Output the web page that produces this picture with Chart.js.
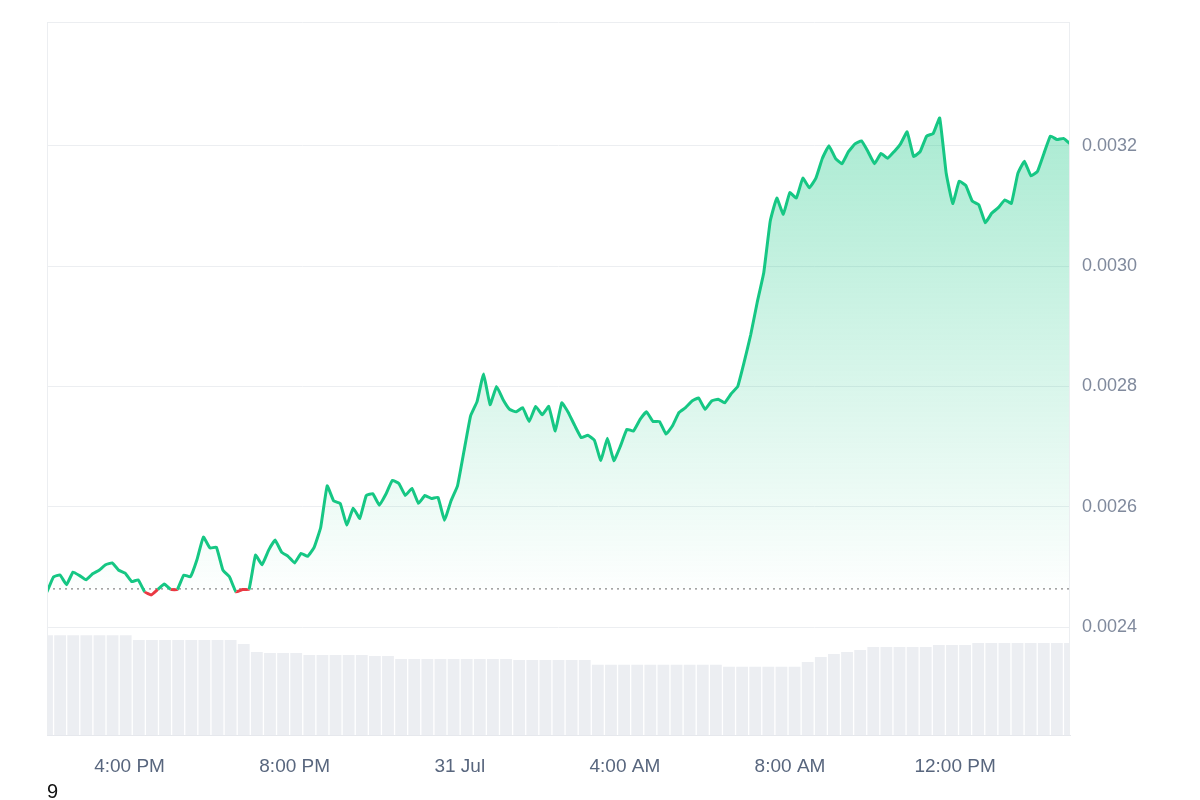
<!DOCTYPE html>
<html>
<head>
<meta charset="utf-8">
<script src="https://cdn.jsdelivr.net/npm/chart.js@4"></script>
<style>
  body { margin: 0; background: #fff; font-family: "Liberation Sans", Arial, sans-serif; }
  #wrap { position: relative; width: 1200px; height: 800px; }
  #note { position: absolute; left: 47px; top: 780px; font-size: 20px; color: #111; }
</style>
</head>
<body>
<div id="wrap">
  <canvas id="priceChart" width="1200" height="800"></canvas>
  <div id="note">9</div>
</div>
<script>
// price samples, evenly spaced from 14:00 over ~24.8h
const prices = [
  0.002459, 0.002484, 0.002487, 0.002471, 0.002492, 0.002486, 0.002479, 0.002489, 0.002495, 0.002504,
  0.002507, 0.002495, 0.002490, 0.002476, 0.002479, 0.002459, 0.002454, 0.002463, 0.002472, 0.002463,
  0.002463, 0.002487, 0.002484, 0.002512, 0.002550, 0.002532, 0.002533, 0.002495, 0.002484, 0.002459,
  0.002463, 0.002463, 0.002520, 0.002504, 0.002528, 0.002545, 0.002525, 0.002518, 0.002507, 0.002523,
  0.002518, 0.002533, 0.002566, 0.002635, 0.002610, 0.002606, 0.002570, 0.002598, 0.002581, 0.002619,
  0.002622, 0.002603, 0.002621, 0.002644, 0.002639, 0.002619, 0.002631, 0.002606, 0.002619, 0.002614,
  0.002616, 0.002578, 0.002610, 0.002635, 0.002693, 0.002751, 0.002775, 0.002821, 0.002770, 0.002800,
  0.002778, 0.002762, 0.002758, 0.002765, 0.002742, 0.002767, 0.002753, 0.002767, 0.002726, 0.002773,
  0.002757, 0.002735, 0.002715, 0.002719, 0.002711, 0.002677, 0.002714, 0.002677, 0.002701, 0.002729,
  0.002726, 0.002745, 0.002758, 0.002742, 0.002742, 0.002721, 0.002735, 0.002757, 0.002765, 0.002776,
  0.002781, 0.002762, 0.002776, 0.002779, 0.002773, 0.002788, 0.002800, 0.002841, 0.002886, 0.002940,
  0.002989, 0.003075, 0.003113, 0.003086, 0.003122, 0.003113, 0.003146, 0.003130, 0.003146, 0.003179,
  0.003200, 0.003179, 0.003170, 0.003190, 0.003203, 0.003208, 0.003190, 0.003170, 0.003187, 0.003179,
  0.003190, 0.003203, 0.003223, 0.003182, 0.003190, 0.003216, 0.003220, 0.003246, 0.003154, 0.003104,
  0.003141, 0.003134, 0.003108, 0.003102, 0.003072, 0.003088, 0.003097, 0.003110, 0.003104, 0.003154,
  0.003174, 0.003150, 0.003157, 0.003187, 0.003216, 0.003210, 0.003212, 0.003203
];
const volumes = [
  101, 101, 101, 101, 101, 101, 101, 96, 96, 96, 96, 96, 96, 96, 96, 92, 84, 83, 83, 83,
  81, 81, 81, 81, 81, 80, 80, 77, 77, 77, 77, 77, 77, 77, 77, 77, 76, 76, 76, 76,
  76, 76, 71, 71, 71, 71, 71, 71, 71, 71, 71, 71, 69, 69, 69, 69, 69, 69, 74, 79,
  82, 84, 86, 89, 89, 89, 89, 89, 91, 91, 91, 93, 93, 93, 93, 93, 93, 93, 93
];
const openPrice = 0.002464;
const spanMinutes = 1487;
const tickMinutes = [120, 360, 600, 840, 1080, 1320];
const tickLabels = ["4:00 PM", "8:00 PM", "31 Jul", "4:00 AM", "8:00 AM", "12:00 PM"];
const priceTicks = [0.0024, 0.0026, 0.0028, 0.0030, 0.0032];

const green = "#16c784", red = "#ea3943";
const priceStep = spanMinutes / (prices.length - 1);
const volStep = spanMinutes / (volumes.length - 1);
const pricePoints = prices.map((p, i) => ({ x: i * priceStep, y: p }));
const volPoints = volumes.map((v, i) => ({ x: i * volStep, y: v }));

const ctx = document.getElementById("priceChart").getContext("2d");
const grad = ctx.createLinearGradient(0, 100, 0, 600);
grad.addColorStop(0, "rgba(22,199,132,0.38)");
grad.addColorStop(1, "rgba(22,199,132,0.0)");

new Chart(ctx, {
  data: {
    datasets: [
      {
        type: "line",
        data: pricePoints,
        borderColor: green,
        borderWidth: 3,
        pointRadius: 0,
        tension: 0.1,
        yAxisID: "y",
        fill: { target: { value: openPrice }, above: grad, below: "rgba(0,0,0,0)" },
        segment: {
          borderColor: c => (c.p0.parsed.y < openPrice && c.p1.parsed.y < openPrice + 0.000004) ? red : green
        },
        order: 1
      },
      {
        type: "line",
        data: [{ x: 0, y: openPrice }, { x: spanMinutes, y: openPrice }],
        borderColor: "#888",
        borderWidth: 1.2,
        borderDash: [2, 4],
        pointRadius: 0,
        yAxisID: "y",
        order: 2
      },
      {
        type: "bar",
        data: volPoints,
        backgroundColor: "#eceef2",
        barPercentage: 1,
        categoryPercentage: 0.9,
        yAxisID: "vol",
        order: 3
      }
    ]
  },
  options: {
    responsive: false,
    animation: false,
    layout: { padding: { left: 47, top: 14, right: 0, bottom: 10 } },
    plugins: { legend: { display: false }, tooltip: { enabled: false } },
    scales: {
      x: {
        type: "linear",
        offset: false,
        min: 0,
        max: spanMinutes,
        afterBuildTicks: s => { s.ticks = tickMinutes.map(v => ({ value: v })); },
        ticks: {
          callback: (v) => tickLabels[tickMinutes.indexOf(v)],
          color: "#58667e",
          font: { size: 19, family: "Liberation Sans" },
          maxRotation: 0,
          padding: 12
        },
        grid: { display: false, offset: false },
        border: { color: "#e6e8ec" }
      },
      y: {
        position: "right",
        min: 0.002221,
        max: 0.003404,
        afterBuildTicks: s => { s.ticks = priceTicks.concat([0.003404]).map(v => ({ value: v })); },
        ticks: {
          callback: v => v > 0.0033 ? "" : v.toFixed(4),
          color: "#808a9d",
          font: { size: 18, family: "Liberation Sans" },
          padding: 12
        },
        grid: { color: "#eceef1", drawTicks: false },
        border: { display: false },
        afterFit: s => { s.width = 130; }
      },
      vol: {
        display: false,
        min: 0,
        max: 719
      }
    }
  },
  plugins: [{
    id: "sides",
    afterDraw(chart) {
      const a = chart.chartArea, c = chart.ctx;
      c.save();
      c.strokeStyle = "#eceef1";
      c.lineWidth = 1;
      c.beginPath();
      c.moveTo(a.left + 0.5, a.top); c.lineTo(a.left + 0.5, a.bottom);
      c.moveTo(a.right - 0.5, a.top); c.lineTo(a.right - 0.5, a.bottom);
      c.stroke();
      c.restore();
    }
  }]
});
</script>
</body>
</html>
